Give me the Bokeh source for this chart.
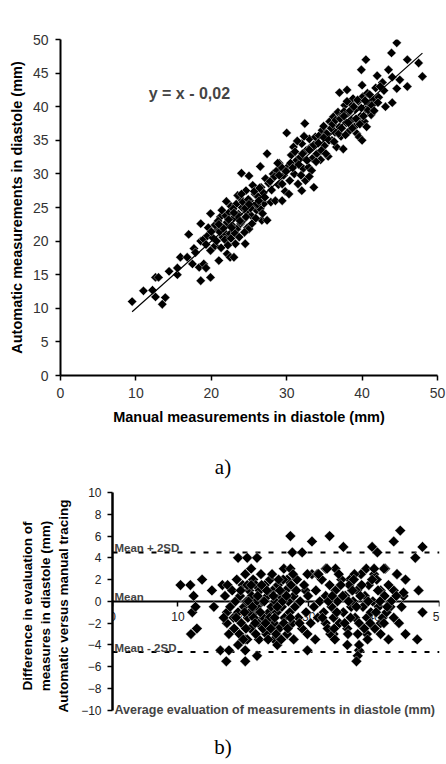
import numpy as np
from bokeh.plotting import figure
from bokeh.models import Range1d, SingleIntervalTicker, Span, Label, Div
from bokeh.embed import file_html
from bokeh.resources import INLINE

# ---------------- data: a) automatic vs manual ----------------
manual = [
    9.5, 11.0, 12.2, 12.6, 12.6, 13.0, 13.5, 13.9, 14.4, 15.5, 15.5, 15.9, 16.8, 17.0, 17.5, 17.7, 17.9, 18.4,
    18.6, 18.6, 18.6, 19.0, 19.0, 19.3, 19.5, 19.6, 19.9, 19.9, 19.9, 20.2, 20.5, 20.8, 21.0, 21.2, 21.3, 21.5,
    21.7, 21.9, 22.0, 22.1, 22.1, 22.4, 22.5, 22.5, 22.6, 22.8, 23.0, 23.0, 23.2, 23.3, 23.4, 23.6, 23.8, 23.9,
    24.0, 24.1, 24.3, 24.5, 24.6, 24.7, 24.8, 25.0, 25.0, 25.1, 25.3, 25.5, 25.6, 25.8, 26.0, 26.2, 26.5, 26.5,
    26.6, 26.7, 26.9, 27.0, 27.2, 27.4, 27.4, 27.6, 27.9, 28.0, 28.2, 28.5, 28.7, 28.9, 29.0, 29.4, 29.6, 29.8,
    30.0, 30.1, 30.4, 30.6, 30.9, 31.0, 31.3, 31.5, 31.8, 32.0, 32.0, 32.2, 32.4, 32.5, 32.6, 32.9, 33.0, 33.2,
    33.4, 33.6, 33.8, 34.0, 34.3, 34.5, 34.7, 34.9, 35.0, 35.3, 35.5, 35.7, 36.0, 36.2, 36.4, 36.6, 36.8, 37.0,
    37.0, 37.2, 37.4, 37.5, 37.7, 37.9, 38.0, 38.1, 38.3, 38.5, 38.6, 38.8, 39.0, 39.1, 39.3, 39.5, 39.6, 39.8,
    39.9, 40.0, 40.0, 40.1, 40.3, 40.5, 40.5, 40.7, 40.9, 41.2, 41.5, 42.0, 42.2, 42.7, 42.9, 43.1, 43.5, 43.9,
    44.0, 44.0, 44.6, 44.6, 45.0, 46.0, 46.0, 47.5, 48.0,
    20.5, 20.9, 21.1, 21.4, 21.8, 22.0, 22.3, 22.6, 22.9, 23.1, 23.4, 23.5, 23.7, 24.0, 24.2, 24.4, 24.6, 24.9,
    25.2, 25.4, 25.7, 25.9, 26.1, 26.4, 26.8, 27.1, 21.6, 22.2, 23.0, 23.8, 24.5, 20.0, 20.7, 19.3, 21.0, 22.7,
    24.0, 25.0, 26.3, 27.8,
    28.4, 29.0, 29.3, 29.9, 30.3, 30.5, 30.8, 31.1, 31.6, 31.9, 32.1, 32.7, 33.0, 33.3, 33.6, 33.9, 34.2, 34.6,
    34.9, 35.2, 29.4, 28.8, 31.4, 32.3, 33.0,
    35.6, 35.9, 36.1, 36.3, 36.5, 36.9, 37.1, 37.3, 37.6, 37.8, 38.2, 38.4, 38.7, 38.9, 39.2, 39.4, 39.7, 39.9,
    40.2, 40.4, 40.6, 40.8, 41.0, 41.3, 41.6, 41.8, 42.1, 42.4, 37.6, 38.0,
]
automatic = [
    11.0, 12.6, 12.7, 11.7, 14.6, 14.6, 10.6, 11.6, 15.5, 15.0, 16.0, 17.6, 17.6, 21.0, 16.6, 18.9, 18.3, 16.1,
    22.6, 14.1, 20.0, 16.6, 20.3, 16.0, 20.8, 22.0, 24.1, 14.6, 18.6, 20.5, 19.3, 21.7, 17.1, 23.6, 19.0, 20.6,
    22.1, 23.8, 21.0, 18.1, 22.8, 24.3, 17.6, 21.1, 25.2, 22.3, 17.6, 23.5, 19.6, 25.5, 21.8, 24.0, 26.4, 22.6,
    30.1, 25.0, 23.2, 19.6, 27.5, 24.4, 22.0, 21.8, 29.7, 26.0, 23.8, 28.3, 25.2, 27.0, 24.6, 26.6, 31.1, 24.8,
    28.0, 23.1, 27.2, 25.6, 29.3, 33.0, 23.1, 28.6, 25.8, 27.6, 30.0, 26.0, 30.5, 28.4, 31.6, 26.0, 29.8, 27.4,
    36.1, 31.0, 29.0, 32.8, 34.0, 30.0, 32.0, 28.5, 32.5, 27.5, 34.5, 30.8, 37.5, 29.0, 33.5, 31.0, 35.2, 34.0,
    32.3, 28.0, 35.5, 33.0, 35.7, 32.1, 36.5, 37.1, 34.2, 36.0, 32.6, 37.8, 35.0, 38.5, 36.2, 34.0, 39.2, 42.1,
    37.0, 35.6, 38.8, 33.7, 40.2, 37.6, 42.5, 39.0, 36.4, 40.5, 38.0, 41.2, 37.0, 39.6, 36.0, 40.8, 35.5, 38.6,
    45.5, 43.2, 35.0, 41.5, 37.8, 47.0, 39.6, 42.0, 40.5, 38.8, 41.0, 44.6, 41.4, 43.6, 42.4, 40.0, 45.5, 48.0,
    44.4, 40.6, 49.5, 42.7, 44.0, 47.0, 43.0, 46.5, 44.5,
    22.4, 23.0, 21.4, 24.6, 20.2, 25.9, 23.2, 20.4, 24.8, 21.2, 23.9, 26.8, 20.6, 22.9, 25.8, 21.3, 23.6, 26.2,
    24.9, 22.6, 27.4, 23.4, 25.5, 27.9, 24.1, 26.5, 21.9, 19.4, 24.2, 23.0, 24.9, 21.4, 20.0, 19.5, 22.5, 22.0,
    27.0, 25.5, 26.0, 28.9,
    29.6, 29.8, 31.0, 30.4, 27.0, 31.6, 30.9, 33.3, 31.4, 29.8, 33.0, 32.0, 33.6, 30.5, 34.3, 31.8, 34.6, 33.5,
    35.4, 33.0, 28.5, 31.6, 34.9, 35.6, 29.6,
    35.0, 36.8, 37.4, 34.8, 38.0, 36.0, 38.2, 36.8, 39.3, 35.8, 37.6, 39.4, 36.8, 40.0, 38.2, 41.0, 37.4, 39.8,
    38.6, 40.9, 37.0, 39.5, 41.8, 40.2, 39.4, 42.8, 40.6, 43.0, 38.6, 40.8,
]
fit_slope = 1.0
fit_intercept = -0.02
fit_x = [9.5, 48.0]
equation_text = "y = x - 0,02"

# ---------------- data: b) Bland-Altman ----------------
avg_eval = [
    10.4, 11.9, 13.7, 12.4, 15.2, 16.8, 19.2, 20.6, 22.1, 21.2, 27.2, 27.5, 29.0, 30.5, 26.2, 27.2, 26.7, 28.2,
    30.5, 29.5, 33.2, 35.3, 32.6, 34.1, 36.3, 36.6, 35.4, 38.8, 39.7, 40.5, 41.7, 43.0, 44.0, 43.5, 44.8, 46.3,
    47.4, 46.8, 44.5, 43.0,
    12.2, 12.0, 12.9, 15.5, 16.5, 17.4, 17.5, 17.5, 17.8, 19.2, 20.3, 20.3, 20.3, 22.1, 24.7, 25.2, 27.7, 29.8,
    31.0, 33.8, 35.9, 37.7, 37.5, 37.3, 37.7, 38.9, 41.0, 42.2, 43.8, 44.8, 46.6, 47.4, 42.5, 17.8, 20.6, 29.8,
    32.6, 33.3, 30.3, 41.0, 44.5, 12.7, 17.0, 29.8, 31.3, 32.8, 40.0, 41.5, 43.5,
    17.2, 17.6, 18.0, 18.3, 18.5, 18.8, 19.0, 19.2, 19.5, 19.7, 19.9, 20.1, 20.3, 20.5, 20.7, 20.9, 21.1, 21.3,
    21.5, 21.7, 21.9, 22.1, 22.3, 22.5, 22.7, 22.9, 23.1, 23.3, 23.5, 23.7, 23.9, 24.1, 24.3, 24.5, 24.7, 24.9,
    25.1, 25.3, 25.5, 25.7, 25.9, 26.1, 26.3, 26.5, 26.7, 26.9, 27.1, 27.3, 27.5, 27.7, 27.9, 28.1, 28.4, 28.7,
    29.0, 29.3, 29.6, 29.9, 18.6, 19.4, 20.0, 21.0, 22.0, 23.0, 24.0, 25.0, 26.0, 22.4, 20.6, 21.6,
    30.8, 31.1, 31.4, 31.7, 32.0, 32.3, 32.6, 32.9, 33.2, 33.5, 33.8, 34.1, 34.4, 34.7, 35.0, 35.3, 35.6, 35.9,
    36.2, 36.5, 36.8, 37.1, 37.4, 37.7, 38.0, 38.3, 38.6, 38.9, 39.2, 39.5, 39.8, 40.1, 40.4, 40.7, 41.0, 41.3,
    41.6, 41.9, 42.2, 42.6, 43.0, 43.4, 34.0, 36.0, 39.0, 40.0, 37.0, 33.0, 31.5, 44.2,
    19.6, 20.2, 20.8, 21.2, 21.8, 22.2, 22.6, 23.2, 23.6, 24.2, 24.6, 25.2, 25.6, 26.2, 26.6, 27.2, 23.4, 24.8,
    21.4, 22.8, 25.4, 20.4, 26.8, 24.4, 23.8, 21.9, 25.8, 27.6, 28.6, 18.9,
    33.6, 34.3, 34.9, 35.5, 36.1, 36.7, 37.3, 37.9, 38.5, 39.1, 39.7, 40.3, 40.9, 41.5, 38.1, 36.4, 35.2, 37.5,
    39.4, 40.6, 42.0, 34.6, 36.9, 32.1, 33.9,
]
diff_eval = [
    1.5, 1.5, 2.0, 0.5, 1.0, 1.5, 4.0, 4.0, 4.0, 3.0, 6.0, 4.5, 4.5, 5.5, 3.0, 3.0, 2.0, 2.0,
    2.5, 1.0, 6.0, 5.0, 3.0, 3.0, 2.0, 1.0, 0.5, 3.0, 5.0, 4.5, 3.0, 5.5, 6.5, 2.5, 2.0, 4.0,
    5.0, 1.0, 0.5, 1.0,
    -1.0, -3.0, -2.5, -0.5, -4.5, -5.5, -1.0, -2.0, -3.0, -4.0, -3.5, -4.5, -5.5, -5.0, -3.5, -4.0, -3.5, -4.5,
    -3.5, -3.0, -4.0, -4.5, -5.0, -5.5, -4.0, -3.0, -3.0, -3.5, -2.0, -3.0, -3.5, -1.0, -0.5, -4.5, -3.5, -3.0,
    -2.0, -3.0, -2.0, -2.0, 0.8, -0.5, -1.5, 2.5, 2.5, 3.0, 2.5, 3.0, 2.5,
    0.5, 1.5, -0.5, 1.0, -1.5, 0.0, 2.0, -1.0, 0.5, -2.0, 1.5, -0.5, 2.5, 0.0, -1.5, 1.0, -2.5, 0.5,
    2.0, -1.0, 1.5, -0.5, -2.0, 1.0, 2.5, 0.0, -1.5, 1.5, -3.0, 0.5, -1.0, 2.0, -0.5, 1.0, -2.0, 0.0,
    -1.0, 1.5, -2.5, 0.5, -0.5, 2.0, -1.5, 1.0, -3.0, 0.0, -1.0, 1.5, -2.0, 0.5, -0.5, 1.0, -1.5, 0.0,
    -2.5, 1.5, -1.0, 0.5, -2.5, -3.0, -3.5, -1.0, 0.0, -2.5, -1.5, -3.0, 0.0, -3.5, 1.5, -1.5,
    -0.5, 1.0, -1.5, 0.0, 2.0, -1.0, 0.5, -2.5, 1.5, -0.5, -1.5, 1.0, 0.0, -2.0, 2.0, -1.0, 0.5, -2.5,
    1.5, -0.5, 0.0, -1.5, 1.0, -2.0, 2.5, -0.5, 0.5, -1.5, 1.5, -1.0, 0.0, -2.5, 2.0, -0.5, 1.0, -1.5,
    0.5, -1.0, 1.5, 0.0, -1.5, 0.5, -3.5, -3.0, -3.5, 3.0, 2.5, 0.0, 2.5, -0.5,
    1.0, -1.0, 0.0, 1.5, -2.0, 0.5, -1.0, 0.0, 1.0, -2.5, 0.5, -0.5, 1.0, -2.0, 0.5, -1.5, -2.0, -1.5,
    -0.5, 1.5, 2.0, -2.5, -2.5, 2.5, -3.5, -3.0, -3.5, 2.5, -2.0, -1.5,
    0.5, -1.0, 1.5, -2.0, 0.0, 1.0, -0.5, 0.5, -2.5, 0.0, 2.0, -1.0, 0.0, -2.0, 1.5, -1.5, 0.5, -3.0,
    -2.0, 1.0, -0.5, 2.5, 2.0, -1.5, -2.5,
]
mean_diff = 0.0
mean_plus_2sd = 4.5
mean_minus_2sd = -4.65

FONT = "Liberation Sans"

# ---------------- figure a ----------------
pa = figure(width=446, height=430, min_border_left=60, min_border_right=9,
            min_border_top=39, min_border_bottom=55,
            x_range=Range1d(0, 50), y_range=Range1d(0, 50),
            output_backend="svg", toolbar_location=None)
pa.xaxis.ticker = SingleIntervalTicker(interval=10, num_minor_ticks=0)
pa.yaxis.ticker = SingleIntervalTicker(interval=5, num_minor_ticks=0)
pa.xaxis.axis_label = "Manual measurements in diastole (mm)"
pa.yaxis.axis_label = "Automatic measurements in diastole (mm)"
for ax in pa.axis:
    ax.axis_line_width = 2
    ax.axis_line_color = "black"
    ax.major_tick_out = 5
    ax.major_tick_in = 0
    ax.minor_tick_out = 0
    ax.minor_tick_in = 0
    ax.major_tick_line_width = 1.5
    ax.major_label_text_font = FONT
    ax.major_label_text_font_size = "14px"
    ax.major_label_text_color = "#333333"
    ax.axis_label_text_font = FONT
    ax.axis_label_text_font_size = "14.5px"
    ax.axis_label_text_font_style = "bold"
    ax.axis_label_text_color = "black"
pa.xaxis.major_label_standoff = 7
pa.xaxis.axis_label_standoff = 8
pa.yaxis.major_label_standoff = 7
pa.yaxis.axis_label_standoff = 5
pa.grid.visible = False
pa.outline_line_color = None

pa.scatter(manual, automatic, marker="square", size=6.6, angle=np.pi / 4,
           fill_color="black", line_color="white", line_width=0.4)
fit_y = [fit_slope * x + fit_intercept for x in fit_x]
pa.line(fit_x, fit_y, line_color="black", line_width=1.2)
pa.add_layout(Label(x=11.7, y=42.0, text=equation_text, text_font=FONT, text_font_size="16px",
                    text_font_style="bold", text_baseline="middle", text_align="left"))

div_a = Div(text='<div style="font-family:\'Liberation Serif\';font-size:21px;line-height:21px;'
                 'text-align:center;width:446px;padding-top:27px;">a)</div>',
            width=446, height=55, margin=0)

# ---------------- figure b ----------------
pb = figure(width=446, height=259, min_border_left=112, min_border_right=7,
            min_border_top=7, min_border_bottom=25,
            x_range=Range1d(0, 50), y_range=Range1d(-10.85, 10),
            output_backend="svg", toolbar_location=None)
pb.xaxis.fixed_location = 0
pb.xaxis.bounds = (0, 50)
pb.yaxis.bounds = (-10, 10)
pb.xaxis.ticker = SingleIntervalTicker(interval=10, num_minor_ticks=0)
pb.yaxis.ticker = SingleIntervalTicker(interval=2, num_minor_ticks=0)
pb.yaxis.axis_label = "Difference in evaluation of\nmeasures in diastole (mm)\nAutomatic versus manual tracing"
for ax in pb.axis:
    ax.axis_line_color = "black"
    ax.major_tick_out = 5
    ax.major_tick_in = 0
    ax.minor_tick_out = 0
    ax.minor_tick_in = 0
    ax.major_tick_line_width = 1.5
    ax.major_label_text_font = FONT
    ax.major_label_text_font_size = "12px"
    ax.major_label_text_color = "#222222"
    ax.axis_label_text_font = FONT
    ax.axis_label_text_font_size = "13.5px"
    ax.axis_label_text_font_style = "bold"
    ax.axis_label_text_color = "black"
pb.xaxis.axis_line_width = 2
pb.yaxis.axis_line_width = 2.5
pb.xaxis.major_label_standoff = 6
pb.yaxis.major_label_standoff = 6
pb.yaxis.axis_label_standoff = 7
pb.xaxis.level = "underlay"
pb.grid.visible = False
pb.outline_line_color = None

for loc in (mean_plus_2sd, mean_minus_2sd):
    pb.add_layout(Span(location=loc, dimension="width", line_color="black", line_width=2,
                       line_dash="5 8", level="underlay"))

pb.scatter(avg_eval, diff_eval, marker="square", size=7.6, angle=np.pi / 4,
           fill_color="black", line_color="white", line_width=0.4)

for txt, loc in (("Mean + 2SD", mean_plus_2sd), ("Mean", mean_diff), ("Mean - 2SD", mean_minus_2sd)):
    pb.add_layout(Label(x=0.3, y=loc, y_offset=4, text=txt, text_font=FONT, text_font_size="11.5px",
                        text_font_style="bold", text_baseline="alphabetic", text_align="left"))
pb.add_layout(Label(x=0.3, y=-10, text="Average evaluation of measurements in diastole (mm)",
                    text_font=FONT, text_font_size="12.5px", text_font_style="bold",
                    text_baseline="middle", text_align="left"))

div_b = Div(text='<div style="font-family:\'Liberation Serif\';font-size:21px;line-height:18px;'
                 'text-align:center;width:446px;position:relative;top:-6px;">b)</div>',
            width=446, height=18, margin=0)

p = [pa, div_a, pb, div_b]
open("out.html", "w").write(file_html(p, INLINE))
